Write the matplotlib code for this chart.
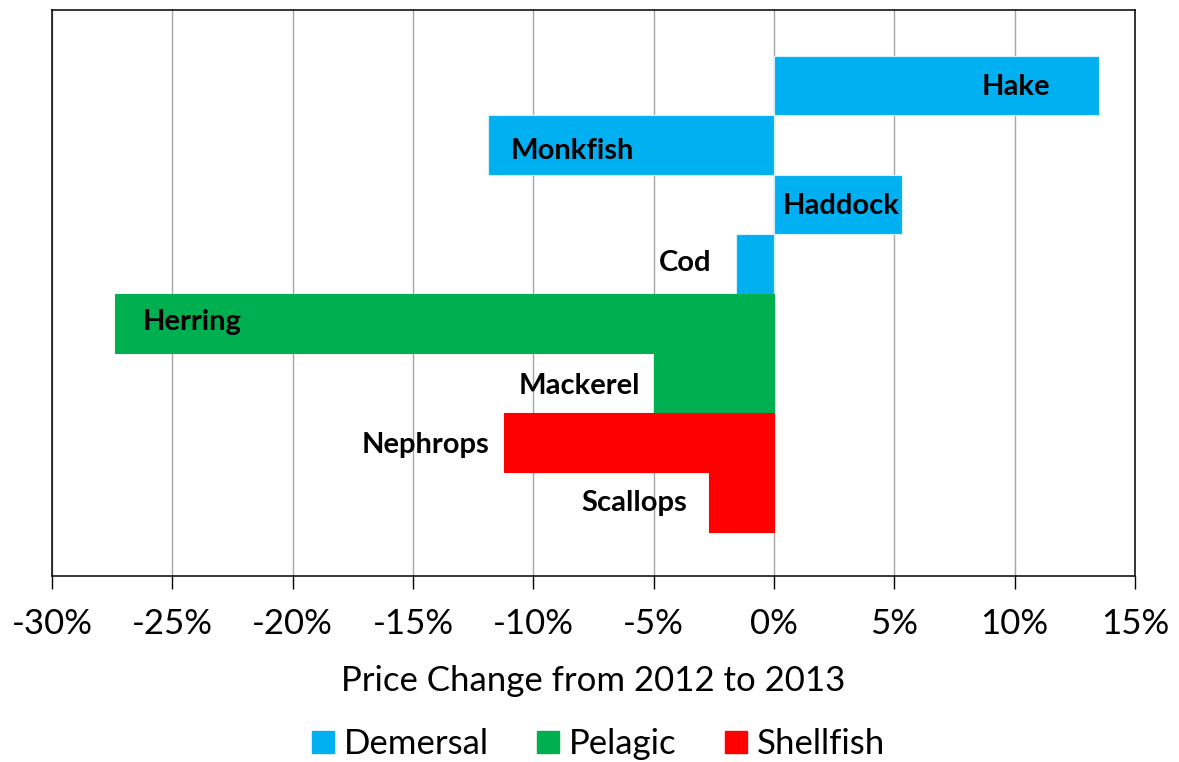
import matplotlib
matplotlib.use("Agg")
import matplotlib.pyplot as plt
from matplotlib.lines import Line2D
from matplotlib.ticker import FuncFormatter, MultipleLocator

species = ["Hake", "Monkfish", "Haddock", "Cod", "Herring", "Mackerel", "Nephrops", "Scallops"]
groups = ["Demersal", "Demersal", "Demersal", "Demersal", "Pelagic", "Pelagic", "Shellfish", "Shellfish"]
changes = [13.5, -11.9, 5.3, -1.6, -27.4, -5.0, -11.2, -2.7]
label_x = [10.05, -8.4, 2.8, -3.7, -24.2, -8.1, -14.5, -5.8]
label_dy = [0.03, 0.1, 0.02, -0.02, -0.02, 0.05, 0.05, 0.02]
group_names = ["Demersal", "Pelagic", "Shellfish"]
group_colors = {"Demersal": "#00B0F0", "Pelagic": "#00B050", "Shellfish": "#FF0000"}
xticks = list(range(-30, 16, 5))

plt.rcParams['font.family'] = ['Lato', 'DejaVu Sans']

fig = plt.figure(figsize=(11.79, 7.62), dpi=100)
ax = fig.add_axes([0.0441, 0.2445, 0.9186, 0.7424])

ypos = list(range(len(species)))
for y, v, g in zip(ypos, changes, groups):
    ec = "#d6f1fc" if g == "Demersal" else group_colors[g]
    ax.barh(y, v, height=1.0, left=0, color=group_colors[g], edgecolor=ec,
            linewidth=0.8, zorder=3)

for y, name, lx, dy in zip(ypos, species, label_x, label_dy):
    ax.text(lx, y + dy, name, ha="center", va="center", fontsize=21,
            fontweight="bold", color="black", zorder=4)

ax.set_xlim(-30, 15)
ax.set_ylim(len(species) - 0.5 + 0.74, -0.5 - 0.77)
ax.set_xticks(xticks)
ax.xaxis.set_major_formatter(FuncFormatter(lambda v, p: f"{int(round(v))}%"))
ax.set_yticks([])
ax.tick_params(axis="x", direction="out", length=9, width=1.0, labelsize=25, pad=14, colors="black")
ax.grid(axis="x", color="#a6a6a6", linewidth=1.0, zorder=0)
ax.set_axisbelow(True)
for s in ax.spines.values():
    s.set_color("black")
    s.set_linewidth(1.1)

ax.set_xlabel("Price Change from 2012 to 2013", fontsize=25, labelpad=18)

handles = [Line2D([], [], marker="s", linestyle="none", markersize=16,
                  markerfacecolor=group_colors[g], markeredgecolor=group_colors[g], label=g)
           for g in group_names]
fig.legend(handles=handles, loc="center", bbox_to_anchor=(0.505, 0.024), ncol=3,
           frameon=False, fontsize=25, handletextpad=0.1, columnspacing=1.2,
           handlelength=1.0)

fig.savefig("out.png", dpi=100)
